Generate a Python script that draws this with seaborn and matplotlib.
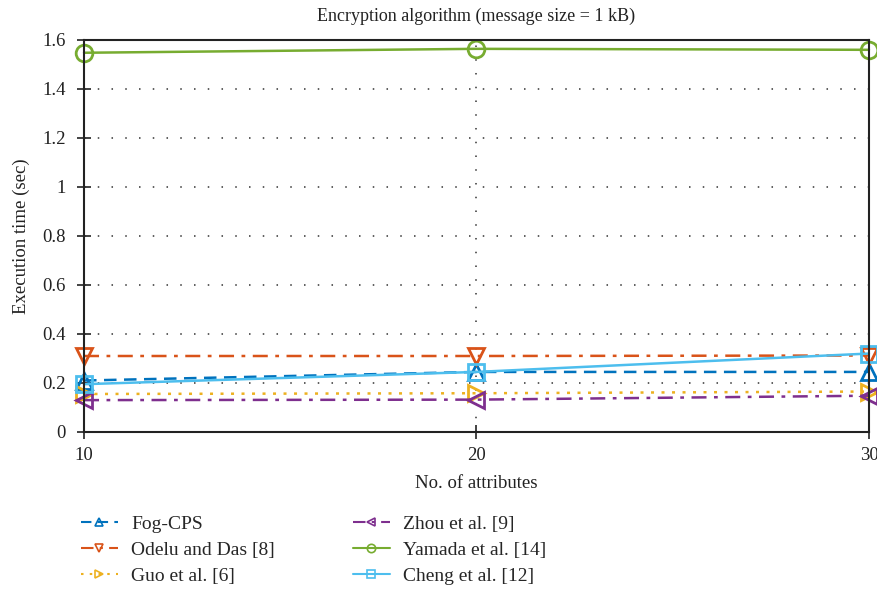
import matplotlib
matplotlib.use("Agg")
import matplotlib.pyplot as plt
import seaborn as sns
import pandas as pd
from matplotlib.lines import Line2D
from matplotlib.ticker import FuncFormatter, MultipleLocator

# Number of attributes
attributes = [10, 20, 30]

# Execution time (sec) per scheme
fog_cps = [0.21, 0.245, 0.245]
odelu_das = [0.31, 0.31, 0.312]
guo = [0.155, 0.158, 0.165]
zhou = [0.13, 0.132, 0.148]
yamada = [1.547, 1.563, 1.559]
cheng = [0.195, 0.245, 0.32]

labels = ["Fog-CPS", "Odelu and Das [8]", "Guo et al. [6]",
          "Zhou et al. [9]", "Yamada et al. [14]", "Cheng et al. [12]"]
series = [fog_cps, odelu_das, guo, zhou, yamada, cheng]

colors = ["#0072BD", "#D95319", "#EDB120", "#7E2F8E", "#77AC30", "#4DBEEE"]
markers = ["^", "v", ">", "<", "o", "s"]
linestyles = [(0, (5, 3)), (0, (6, 3, 1.5, 3)), (0, (1.2, 3)),
              (0, (6, 3, 1.5, 3)), "-", "-"]

sns.set_theme(style="white")
plt.rcParams["font.family"] = ["Liberation Serif", "DejaVu Serif"]

fig = plt.figure(figsize=(8.78, 5.97), dpi=100)
ax = fig.add_axes([0.0957, 0.2764, 0.894, 0.657])

for lab, vals, c, m, ls in zip(labels, series, colors, markers, linestyles):
    df = pd.DataFrame({"x": attributes, "y": vals})
    sns.lineplot(data=df, x="x", y="y", ax=ax, color=c, marker=m,
                 linestyle=ls, linewidth=1.8, markersize=12,
                 markerfacecolor="none", markeredgecolor=c,
                 markeredgewidth=2, label=lab, legend=False, clip_on=False)

ax.set_xlim(10, 30)
ax.set_ylim(0, 1.6)
ax.set_xticks([10, 20, 30])
ax.yaxis.set_major_locator(MultipleLocator(0.2))
ax.yaxis.set_major_formatter(FuncFormatter(lambda v, p: f"{v:g}"))
ax.grid(True, axis="both", linestyle=(0, (1, 8)), color="#333333", linewidth=1.1)
ax.set_axisbelow(True)

for s in ax.spines.values():
    s.set_color("#222222")
    s.set_linewidth(1.5)
    s.set_visible(True)

ax.tick_params(axis="both", direction="inout", length=10, width=1.2,
               colors="#222222", labelsize=13.5, left=True, bottom=True)
ax.tick_params(axis="y", pad=8)
ax.tick_params(axis="x", pad=6)

ax.set_xlabel("No. of attributes", fontsize=13.5, color="#222222", labelpad=8)
ax.set_ylabel("Execution time (sec)", fontsize=13.5, color="#222222", labelpad=9)
ax.set_title("Encryption algorithm (message size = 1 kB)", fontsize=13,
             color="#222222", pad=13.5)

handles = [Line2D([0], [0], color=c, marker=m, linestyle=ls, linewidth=1.5,
                  markersize=6, markerfacecolor="none", markeredgecolor=c,
                  markeredgewidth=1.2)
           for c, m, ls in zip(colors, markers, linestyles)]
fig.legend(handles, labels, ncol=2, loc="center left",
           bbox_to_anchor=(0.092, 0.0787), bbox_transform=fig.transFigure,
           frameon=False, fontsize=14, handlelength=1.9, columnspacing=4.0,
           labelspacing=0.42, handletextpad=0.7, borderpad=0, borderaxespad=0)

fig.savefig("out.png", dpi=100)
